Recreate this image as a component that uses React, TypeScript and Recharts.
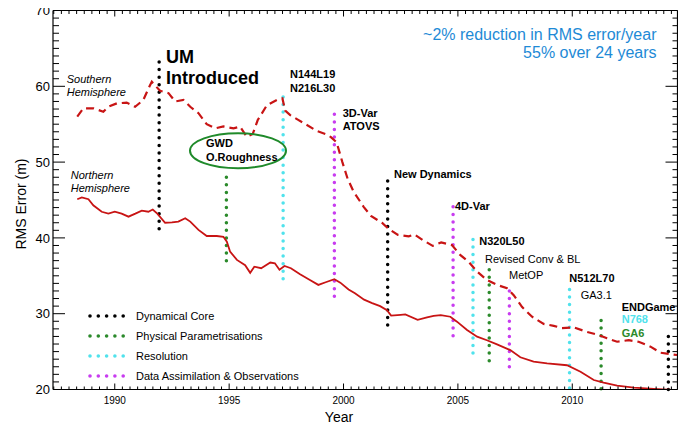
import React from 'react';
import { ComposedChart, Line, XAxis, YAxis, ReferenceLine } from 'recharts';

// ---------- data ----------
const nhYears = [1988.36, 1988.56, 1988.85, 1989.06, 1989.43, 1989.72, 1990.0, 1990.3, 1990.6, 1990.9, 1991.18, 1991.47, 1991.66, 1991.86, 1992.2, 1992.5, 1992.78, 1993.08, 1993.3, 1993.66, 1994.02, 1994.46, 1994.75, 1994.9, 1995.04, 1995.34, 1995.7, 1995.92, 1996.1, 1996.4, 1996.8, 1997.0, 1997.2, 1997.42, 1997.7, 1998.1, 1998.55, 1998.9, 1999.22, 1999.6, 1999.86, 2000.22, 2000.5, 2000.9, 2001.25, 2001.6, 2001.9, 2002.08, 2002.5, 2002.7, 2003.24, 2003.65, 2003.94, 2004.25, 2004.67, 2004.96, 2005.4, 2005.84, 2006.27, 2006.71, 2007.29, 2007.73, 2008.31, 2008.9, 2009.77, 2010.36, 2010.94, 2011.37, 2011.96, 2012.69, 2013.56, 2014.58];
const nhValues = [45.1, 45.35, 45.1, 44.3, 43.45, 43.2, 43.45, 43.2, 42.8, 43.2, 43.6, 43.45, 43.75, 43.2, 42.0, 42.05, 42.15, 42.6, 42.15, 41.05, 40.25, 40.25, 40.15, 39.5, 38.2, 37.1, 36.4, 35.4, 36.2, 36.0, 36.75, 36.65, 35.8, 36.3, 36.0, 35.2, 34.4, 33.8, 34.15, 34.55, 34.1, 33.2, 32.7, 31.85, 31.4, 31.0, 30.45, 29.75, 29.85, 29.9, 29.2, 29.5, 29.7, 29.8, 29.6, 28.95, 27.85, 26.97, 26.5, 25.96, 25.2, 24.25, 23.67, 23.45, 23.2, 22.35, 21.25, 20.9, 20.5, 20.24, 20.07, 19.9];

const shYears = [1988.36, 1988.63, 1989.07, 1989.5, 1989.72, 1990.09, 1990.52, 1990.89, 1991.25, 1991.51, 1991.62, 1991.98, 1992.35, 1992.64, 1993.0, 1993.3, 1993.66, 1994.02, 1994.39, 1994.75, 1995.19, 1995.48, 1995.77, 1996.03, 1996.25, 1996.65, 1997.09, 1997.33, 1997.45, 1997.67, 1998.0, 1998.4, 1998.84, 1999.22, 1999.45, 1999.7, 1999.95, 2000.18, 2000.44, 2000.88, 2001.2, 2001.68, 2001.97, 2002.38, 2002.85, 2003.1, 2003.47, 2003.9, 2004.27, 2004.74, 2005.1, 2005.47, 2005.84, 2006.27, 2006.71, 2007.15, 2007.44, 2007.8, 2008.24, 2008.75, 2009.19, 2009.55, 2010.06, 2010.64, 2011.15, 2011.52, 2011.96, 2012.47, 2012.9, 2013.42, 2013.86, 2014.58];
const shValues = [56.0, 57.1, 57.1, 56.65, 57.3, 57.75, 57.85, 57.3, 58.2, 59.95, 60.6, 59.4, 59.1, 58.0, 58.2, 57.3, 56.45, 55.0, 54.45, 54.7, 54.45, 54.67, 53.35, 53.7, 55.55, 57.5, 58.2, 58.4, 56.8, 56.2, 55.6, 54.9, 54.1, 53.7, 53.3, 52.6, 50.0, 47.8, 46.1, 44.1, 42.9, 42.0, 41.2, 40.4, 40.2, 40.45, 39.7, 38.95, 39.4, 39.05, 37.75, 36.85, 35.55, 34.45, 33.8, 33.35, 32.45, 30.9, 29.6, 28.65, 28.4, 28.1, 28.2, 27.6, 27.2, 26.75, 26.3, 26.5, 26.3, 25.65, 24.85, 24.55];

// change markers: year, bottom, top, category
const markerYears = [1991.94, 1994.88, 1997.36, 1999.6, 2001.93, 2004.79, 2005.66, 2006.37, 2007.25, 2009.88, 2011.26, 2014.2];
const markerLows = [41.2, 37.0, 34.6, 32.3, 28.5, 27.1, 24.8, 23.8, 23.0, 20.2, 20.1, 20.0];
const markerHighs = [63.9, 48.9, 59.4, 57.1, 48.0, 44.5, 40.1, 35.8, 33.9, 33.2, 29.8, 27.5];
const markerCats = [0, 1, 2, 3, 0, 3, 2, 1, 3, 2, 1, 0];

const categoryNames = ['Dynamical Core', 'Physical Parametrisations', 'Resolution', 'Data Assimilation & Observations'];
const categoryColors = ['#000000', '#2b8a2b', '#50e2ec', '#c83cf0'];

const xMajorTicks = [1990, 1995, 2000, 2005, 2010];
const xTickLabels = ['1990', '1995', '2000', '2005', '2010'];
const yMajorTicks = [20, 30, 40, 50, 60, 70];
const yTickLabels = ['20', '30', '40', '50', '60', '70'];

const X_DOMAIN: [number, number] = [1987.3, 2014.6];
const Y_DOMAIN: [number, number] = [20, 70];

// minor ticks: every 4 months on x, every unit on y
const xTicks: number[] = [];
for (let i = 0; ; i++) {
  const v = 1987 + i / 3;
  if (v > X_DOMAIN[1]) break;
  if (v >= X_DOMAIN[0]) xTicks.push(v);
}
const yTicks: number[] = [];
for (let v = Y_DOMAIN[0]; v <= Y_DOMAIN[1]; v++) yTicks.push(v);

const nhData = nhYears.map((x, i) => ({ x, y: nhValues[i] }));
const shData = shYears.map((x, i) => ({ x, y: shValues[i] }));

const RED = '#c81414';
const FONT = '"Liberation Sans", Arial, Helvetica, sans-serif';

const majorIndexX = (v: number) => xMajorTicks.findIndex((m) => Math.abs(m - v) < 1e-6);
const majorIndexY = (v: number) => yMajorTicks.findIndex((m) => Math.abs(m - v) < 1e-6);

const BottomTick = (p: any) => {
  const { x, y, payload } = p;
  const mi = majorIndexX(payload.value);
  return (
    <g>
      <line x1={x} y1={y} x2={x} y2={y - (mi >= 0 ? 6 : 3)} stroke="#000" strokeWidth={1} />
      {mi >= 0 && (
        <text x={x} y={y + 14} textAnchor="middle" fontSize={10} fontFamily={FONT} fill="#000">
          {xTickLabels[mi]}
        </text>
      )}
    </g>
  );
};
const TopTick = (p: any) => {
  const { x, y, payload } = p;
  const mi = majorIndexX(payload.value);
  return <line x1={x} y1={y} x2={x} y2={y + (mi >= 0 ? 6 : 3.5)} stroke="#000" strokeWidth={1} />;
};
const LeftTick = (p: any) => {
  const { x, y, payload } = p;
  const mi = majorIndexY(payload.value);
  return (
    <g>
      <line x1={x} y1={y} x2={x + (mi >= 0 ? 12 : 6)} y2={y} stroke="#000" strokeWidth={1} />
      {mi >= 0 && (
        <text x={x - 3} y={y} dy="0.36em" textAnchor="end" fontSize={13} fontFamily={FONT} fill="#000">
          {yTickLabels[mi]}
        </text>
      )}
    </g>
  );
};
const RightTick = (p: any) => {
  const { x, y, payload } = p;
  const mi = majorIndexY(payload.value);
  return <line x1={x} y1={y} x2={x - (mi >= 0 ? 12 : 5)} y2={y} stroke="#000" strokeWidth={1} />;
};

const W = 686;
const H = 425;

const bold = { fontFamily: FONT, fontWeight: 700, fontSize: 11, fill: '#000' } as const;
const reg = { fontFamily: FONT, fontSize: 11, fill: '#000' } as const;

export default function App() {
  return (
    <div style={{ position: 'relative', width: W, height: H, margin: '-8px 0 0 -8px' }}>
      <ComposedChart width={W} height={H} margin={{ top: 9.5, right: 7.5, left: 8, bottom: 5.5 }}>
        <XAxis
          xAxisId={0}
          dataKey="x"
          type="number"
          domain={X_DOMAIN}
          allowDataOverflow
          ticks={xTicks}
          interval={0}
          height={30}
          tickSize={0}
          tickMargin={0}
          tickLine={false}
          tick={<BottomTick />}
          axisLine={{ stroke: '#000', strokeWidth: 1.2 }}
        />
        <XAxis
          xAxisId="top"
          orientation="top"
          dataKey="x"
          type="number"
          domain={X_DOMAIN}
          allowDataOverflow
          ticks={xTicks}
          interval={0}
          height={1}
          tickSize={0}
          tickMargin={0}
          tickLine={false}
          tick={<TopTick />}
          axisLine={{ stroke: '#000', strokeWidth: 1.2 }}
        />
        <YAxis
          yAxisId={0}
          type="number"
          domain={Y_DOMAIN}
          allowDataOverflow
          ticks={yTicks}
          interval={0}
          width={45}
          tickSize={0}
          tickMargin={0}
          tickLine={false}
          tick={<LeftTick />}
          axisLine={{ stroke: '#000', strokeWidth: 1.2 }}
        />
        <YAxis
          yAxisId="right"
          orientation="right"
          type="number"
          domain={Y_DOMAIN}
          allowDataOverflow
          ticks={yTicks}
          interval={0}
          width={1}
          tickSize={0}
          tickMargin={0}
          tickLine={false}
          tick={<RightTick />}
          axisLine={{ stroke: '#000', strokeWidth: 1.2 }}
        />
        {markerYears.map((yr, i) => (
          <ReferenceLine
            key={i}
            xAxisId={0}
            yAxisId={0}
            segment={[{ x: yr, y: markerLows[i] }, { x: yr, y: markerHighs[i] }]}
            stroke={categoryColors[markerCats[i]]}
            strokeWidth={3.5}
            strokeDasharray="0 7.58"
            strokeLinecap="round"
            ifOverflow="visible"
          />
        ))}
        <Line
          data={shData}
          dataKey="y"
          xAxisId={0}
          yAxisId={0}
          stroke={RED}
          strokeWidth={2.2}
          strokeDasharray="8 5"
          dot={false}
          activeDot={false}
          type="linear"
          isAnimationActive={false}
        />
        <Line
          data={nhData}
          dataKey="y"
          xAxisId={0}
          yAxisId={0}
          stroke={RED}
          strokeWidth={1.8}
          dot={false}
          activeDot={false}
          type="linear"
          isAnimationActive={false}
        />
      </ComposedChart>
      <svg
        width={W}
        height={H}
        style={{ position: 'absolute', left: 0, top: 0, pointerEvents: 'none' }}
      >
        <text x={656.5} y={39.5} textAnchor="end" fontFamily={FONT} fontSize={16} fill="#1e8ad6">
          ~2% reduction in RMS error/year
        </text>
        <text x={656.5} y={57.5} textAnchor="end" fontFamily={FONT} fontSize={16} fill="#1e8ad6">
          55% over 24 years
        </text>

        <text x={166} y={63} fontFamily={FONT} fontWeight={700} fontSize={18} fill="#000">UM</text>
        <text x={166} y={84} fontFamily={FONT} fontWeight={700} fontSize={18} fill="#000">Introduced</text>

        <text x={290} y={78.3} {...bold}>N144L19</text>
        <text x={290} y={92} {...bold}>N216L30</text>
        <text x={342.7} y={116.5} {...bold}>3D-Var</text>
        <text x={342.7} y={129.5} {...bold}>ATOVS</text>

        <ellipse cx={238} cy={150.8} rx={48} ry={17.5} fill="none" stroke="#1f8a2a" strokeWidth={2} />
        <text x={206} y={147} {...bold}>GWD</text>
        <text x={206} y={160.5} {...bold}>O.Roughness</text>

        <text x={394} y={178} {...bold}>New Dynamics</text>
        <text x={455} y={209.5} {...bold}>4D-Var</text>
        <text x={479.3} y={244.5} {...bold}>N320L50</text>
        <text x={485} y={263.3} {...reg}>Revised Conv &amp; BL</text>
        <text x={509} y={279} {...reg}>MetOP</text>
        <text x={569.3} y={282} {...bold}>N512L70</text>
        <text x={580.7} y={299} {...reg}>GA3.1</text>
        <text x={621.7} y={310.7} {...bold}>ENDGame</text>
        <text x={621.7} y={323.4} {...bold} fill={categoryColors[2]}>N768</text>
        <text x={621.7} y={336.7} {...bold} fill={categoryColors[1]}>GA6</text>

        <text x={66.7} y={83.3} {...reg} fontStyle="italic">Southern</text>
        <text x={66.7} y={95.8} {...reg} fontStyle="italic">Hemisphere</text>
        <text x={70.7} y={179.3} {...reg} fontStyle="italic">Northern</text>
        <text x={70.7} y={191.8} {...reg} fontStyle="italic">Hemisphere</text>

        {categoryNames.map((name, i) => (
          <g key={name}>
            {[0, 1, 2, 3, 4].map((k) => (
              <circle key={k} cx={90 + k * 8.3} cy={316 + i * 20} r={1.8} fill={categoryColors[i]} />
            ))}
            <text x={136} y={320 + i * 20} {...reg}>{name}</text>
          </g>
        ))}

        <text
          x={21}
          y={204}
          transform="rotate(-90 21 204)"
          textAnchor="middle"
          dominantBaseline="central"
          fontFamily={FONT}
          fontSize={14}
          fill="#000"
        >
          RMS Error (m)
        </text>
        <text x={339} y={422} textAnchor="middle" fontFamily={FONT} fontSize={14} fill="#000">
          Year
        </text>
      </svg>
    </div>
  );
}
